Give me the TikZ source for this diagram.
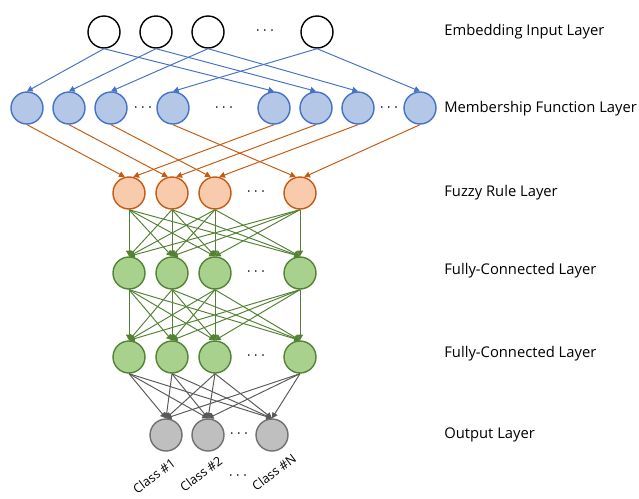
\documentclass[tikz,border=0pt]{standalone}
\usepackage{fontspec}
\setmainfont{Open Sans}
\usetikzlibrary{arrows.meta}

\definecolor{mfline}{HTML}{4472C4}
\definecolor{mffill}{HTML}{B4C7E7}
\definecolor{frline}{HTML}{C55A11}
\definecolor{frfill}{HTML}{F8CBAD}
\definecolor{fcline}{HTML}{548235}
\definecolor{fcfill}{HTML}{A9D18E}
\definecolor{outline}{HTML}{707070}
\definecolor{outfill}{HTML}{BFBFBF}
\definecolor{outedge}{HTML}{595959}

\tikzset{
	neuron/.style={circle, minimum size=0.64cm, inner sep=0pt, line width=0.8pt},
	innode/.style={neuron, draw=black, fill=white},
	mfnode/.style={neuron, draw=mfline, fill=mffill},
	frnode/.style={neuron, draw=frline, fill=frfill},
	fcnode/.style={neuron, draw=fcline, fill=fcfill},
	outnode/.style={neuron, draw=outline, fill=outfill},
	conn/.style={line width=0.55pt, -{Triangle[length=3.2pt, width=3.4pt]}},
	layerlabel/.style={anchor=west, inner sep=0pt, font=\fontsize{8.4}{10}\selectfont},
	classlabel/.style={rotate=37, inner sep=0pt, font=\fontsize{7.2}{9}\selectfont},
	dots/.style={font=\fontsize{9}{10}\selectfont}
}

\begin{document}
\begin{tikzpicture}[x=0.02cm, y=-0.02cm]
\useasboundingbox (0, 0) rectangle (639, 498);

% embedding input layer
\foreach \i/\x in {1/104, 2/156, 3/208, 4/317}
	\node[innode] (in\i) at (\x, 32) {};
\node[dots] (indots) at (265, 31) {$\cdots$};

% membership function layer
\foreach \i/\x in {1/27, 2/69, 3/111, 4/173, 5/274, 6/316, 7/358, 8/420}
	\node[mfnode] (mf\i) at (\x, 108) {};
\foreach \x/\n in {143/a, 224/b, 389/c}
	\node[dots] (mfdots\n) at (\x, 108) {$\cdots$};

% fuzzy rule layer and the two fully-connected layers
\foreach \i/\x in {1/129, 2/172, 3/215, 4/300} {
	\node[frnode] (fr\i) at (\x, 193) {};
	\node[fcnode] (fa\i) at (\x, 273) {};
	\node[fcnode] (fb\i) at (\x, 357) {};
}
\node[dots] (frdots) at (256, 192) {$\cdots$};
\node[dots] (fadots) at (256, 272) {$\cdots$};
\node[dots] (fbdots) at (256, 356) {$\cdots$};

% output layer
\foreach \i/\x in {1/166, 2/208, 3/272}
	\node[outnode] (out\i) at (\x, 435) {};
\node[dots] (outdots) at (239, 434) {$\cdots$};

\node[classlabel] (class1) at (154, 476) {Class \#1};
\node[classlabel] (class2) at (201, 474) {Class \#2};
\node[classlabel] (class3) at (274, 472) {Class \#N};
\node[dots] (classdots) at (238, 476) {$\cdots$};

% connections
\foreach \i [evaluate=\i as \j using int(\i+4)] in {1,...,4} {
	\draw[conn, mfline] (in\i.south) -- (mf\i.north);
	\draw[conn, mfline] (in\i.south) -- (mf\j.north);
	\draw[conn, frline] (mf\i.south) -- (fr\i.105);
	\draw[conn, frline] (mf\j.south) -- (fr\i.75);
}
\foreach \i in {1,...,4}
	\foreach \j in {1,...,4} {
		\draw[conn, fcline] (fr\i.south) -- (fa\j.north);
		\draw[conn, fcline] (fa\i.south) -- (fb\j.north);
	}
\foreach \i in {1,...,4}
	\foreach \j in {1,...,3}
		\draw[conn, outedge] (fb\i.south) -- (out\j.north);

% layer names
\node[layerlabel] (l1) at (444, 32) {Embedding Input Layer};
\node[layerlabel] (l2) at (444, 109) {Membership Function Layer};
\node[layerlabel] (l3) at (444, 193) {Fuzzy Rule Layer};
\node[layerlabel] (l4) at (444, 271) {Fully-Connected Layer};
\node[layerlabel] (l5) at (444, 354) {Fully-Connected Layer};
\node[layerlabel] (l6) at (444, 435) {Output Layer};

\end{tikzpicture}
\end{document}
